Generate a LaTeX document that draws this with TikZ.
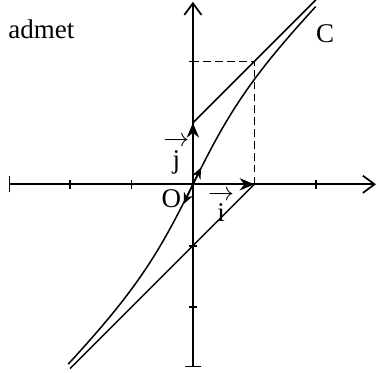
\documentclass[tikz,border=0pt]{standalone}
\usepackage{fontspec}
\setmainfont{Liberation Serif}
\usetikzlibrary{arrows.meta,positioning,calc}

\begin{document}
\begin{tikzpicture}[
      axis/.style={line width=0.8pt},
      curve/.style={line width=0.7pt},
      tick/.style={line width=0.7pt},
      vect/.style={line width=0.8pt, -{Stealth[length=2.4mm, width=2mm]}},
      tang/.style={line width=0.7pt, {Stealth[length=1.8mm, width=1.6mm]}-{Stealth[length=1.8mm, width=1.6mm]}},
      dashline/.style={line width=0.7pt, dash pattern=on 3.5pt off 2pt},
      lbl/.style={font=\fontsize{12.5}{14}\selectfont, inner sep=0pt},
      vlbl/.style={lbl, align=center}
    ]
    \useasboundingbox (-3.14,-3.07) rectangle (2.98,3.0);

    % ============ POINTS ============
    \coordinate (O) at (0,0);
    \coordinate (I) at (1,0);
    \coordinate (J) at (0,1);
    \coordinate (M) at (1,2);
    \coordinate (Y2) at (0,2);
    \coordinate (xl) at (-3.0,0);
    \coordinate (xr) at (2.98,0);
    \coordinate (yb) at (0,-2.98);
    \coordinate (yt) at (0,2.97);
    \coordinate (A1) at (2,3);
    \coordinate (B1) at (-2,-3);
    \coordinate (T1) at (-0.15,-0.32);
    \coordinate (T2) at (0.13,0.27);

    % ============ AXES ============
    \draw[axis, {Bar[width=2.6mm]}-{Straight Barb[length=1.9mm, width=2.8mm]}] (xl) -- (xr);
    \draw[axis, {Bar[width=2.6mm]}-{Straight Barb[length=1.9mm, width=2.8mm]}] (yb) -- (yt);

    % ticks
    \foreach \t in {-2,-1,2}
      \draw[tick] (\t,-0.07) -- (\t,0.07);
    \foreach \t in {-2,-1,2}
      \draw[tick] (-0.07,\t) -- (0.07,\t);

    % unit vectors
    \draw[vect] (O) -- (I);
    \draw[vect] (O) -- (J);

    % ============ CURVES ============
    % curve C
    \draw[curve] plot[domain=-2.03:2, samples=90] (\x, {\x + \x/sqrt(1+\x*\x)});
    % half-lines
    \draw[curve] (J) -- (A1);
    \draw[curve] (I) -- (B1);
    % tangent at O
    \draw[tang] (T1) -- (T2);

    % dashed guides
    \draw[dashline] (I) -- (M) -- (Y2);

    % ============ LABELS ============
    \node[lbl, anchor=base west] (txt) at (-3.01,2.38) {admet};
    \node[lbl, anchor=base] (cname) at (2.15,2.31) {C};
    \node[lbl] (oname) at (-0.35,-0.23) {O};
    \node[vlbl] (jname) at (-0.27,0.47) {$\rightarrow$\\[-4pt]j};
    \node[vlbl] (iname) at (0.46,-0.36) {$\rightarrow$\\[-4pt]i};

  \end{tikzpicture}
\end{document}
